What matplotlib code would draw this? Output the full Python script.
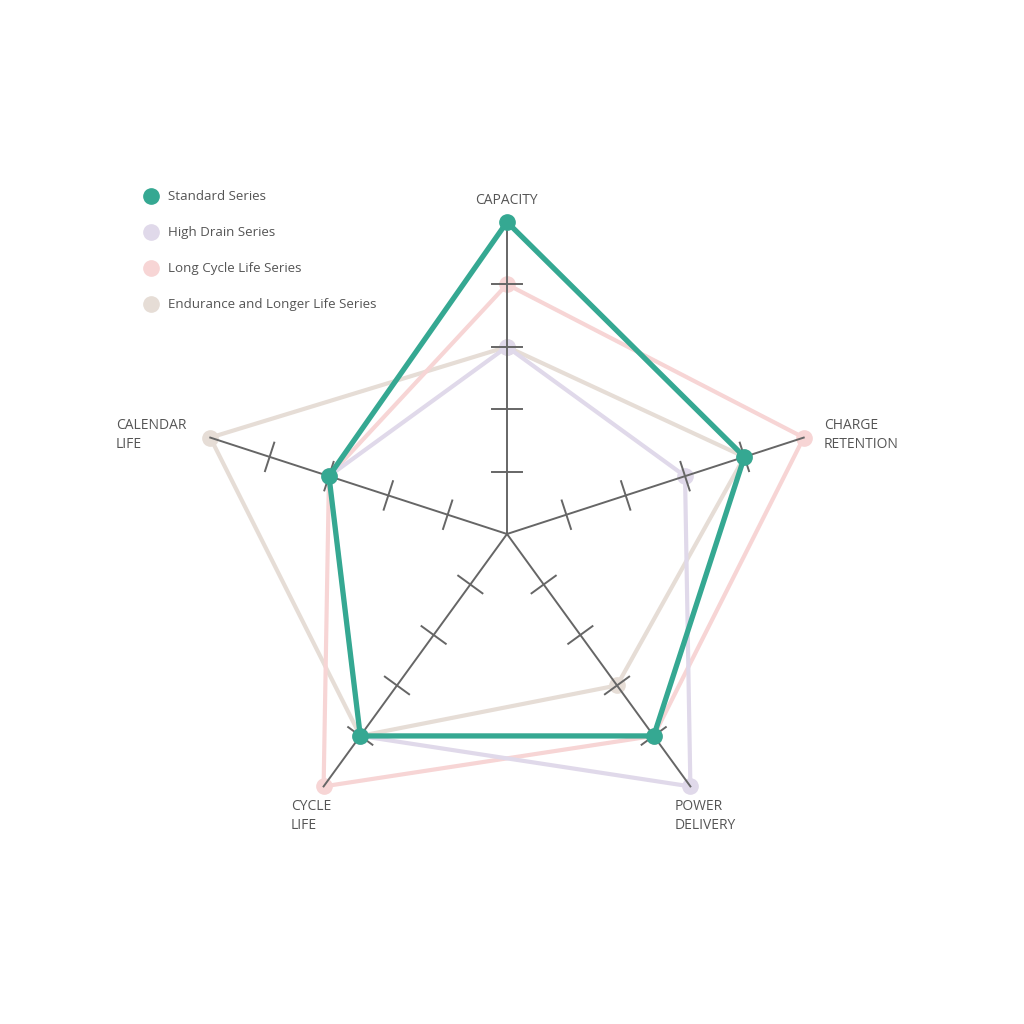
import numpy as np
import matplotlib.pyplot as plt

plt.rcParams['font.family'] = ['Open Sans', 'DejaVu Sans']

axes_names = ['CAPACITY', 'CHARGE\nRETENTION', 'POWER\nDELIVERY', 'CYCLE\nLIFE', 'CALENDAR\nLIFE']
series_names = ['Standard Series', 'High Drain Series', 'Long Cycle Life Series',
                'Endurance and Longer Life Series']
standard = [5, 4, 4, 4, 3]
high_drain = [3, 3, 5, 4, 3]
long_cycle = [4, 5, 4, 5, 3]
endurance = [3, 4, 3, 4, 5]
max_level = 5

colors = ['#35a892', '#e0d9ea', '#f7d5d5', '#e6ddd6']
axis_color = '#666666'
text_color = '#555555'

angles = np.deg2rad(90 - 72 * np.arange(5))


def xy(vals):
    v = np.array(vals + vals[:1], dtype=float)
    a = np.append(angles, angles[0])
    return v * np.cos(a), v * np.sin(a)


fig = plt.figure(figsize=(10.24, 10.24), dpi=100)
ax = fig.add_axes([0, 0, 1, 1])
unit = 62.4
cx, cy = 507, 534
ax.set_xlim(-cx / unit, (1024 - cx) / unit)
ax.set_ylim(-(1024 - cy) / unit, cy / unit)
ax.axis('off')

# faint series below the axes
for vals, c in zip([endurance, long_cycle, high_drain], [colors[3], colors[2], colors[1]]):
    x, y = xy(vals)
    ax.plot(x, y, color=c, lw=3, zorder=1, solid_joinstyle='miter')
    ax.plot(x[:-1], y[:-1], 'o', color=c, ms=11, zorder=1)

# axes and ticks
tl = 0.24
for a in angles:
    ax.plot([0, max_level * np.cos(a)], [0, max_level * np.sin(a)], color=axis_color, lw=1.4, zorder=2)
    px, py = -np.sin(a), np.cos(a)
    for k in range(1, max_level):
        bx, by = k * np.cos(a), k * np.sin(a)
        ax.plot([bx - tl * px, bx + tl * px], [by - tl * py, by + tl * py],
                color=axis_color, lw=1.4, zorder=2)

# standard on top
x, y = xy(standard)
ax.plot(x, y, color=colors[0], lw=3.8, zorder=3)
ax.plot(x[:-1], y[:-1], 'o', color=colors[0], ms=11, zorder=3)

# axis labels (pixel positions converted to data units)
def px2d(px, py):
    return (px - cx) / unit, (cy - py) / unit

label_pos = [(506, 200, 'center'), (824, 435, 'left'), (675, 816, 'left'),
             (291, 816, 'left'), (116, 435, 'left')]
for name, (px, py, ha) in zip(axes_names, label_pos):
    tx, ty = px2d(px, py)
    ax.text(tx, ty, name, ha=ha, va='center', fontsize=10, color=text_color,
            linespacing=1.3)

# legend
for i, (name, c) in enumerate(zip(series_names, colors)):
    mx, my = px2d(151, 196 + 36 * i)
    ax.plot(mx, my, 'o', color=c, ms=11)
    tx, ty = px2d(168, 196 + 36 * i)
    ax.text(tx, ty, name, ha='left', va='center', fontsize=9.6, color=text_color)

fig.savefig('out.png', dpi=100)
